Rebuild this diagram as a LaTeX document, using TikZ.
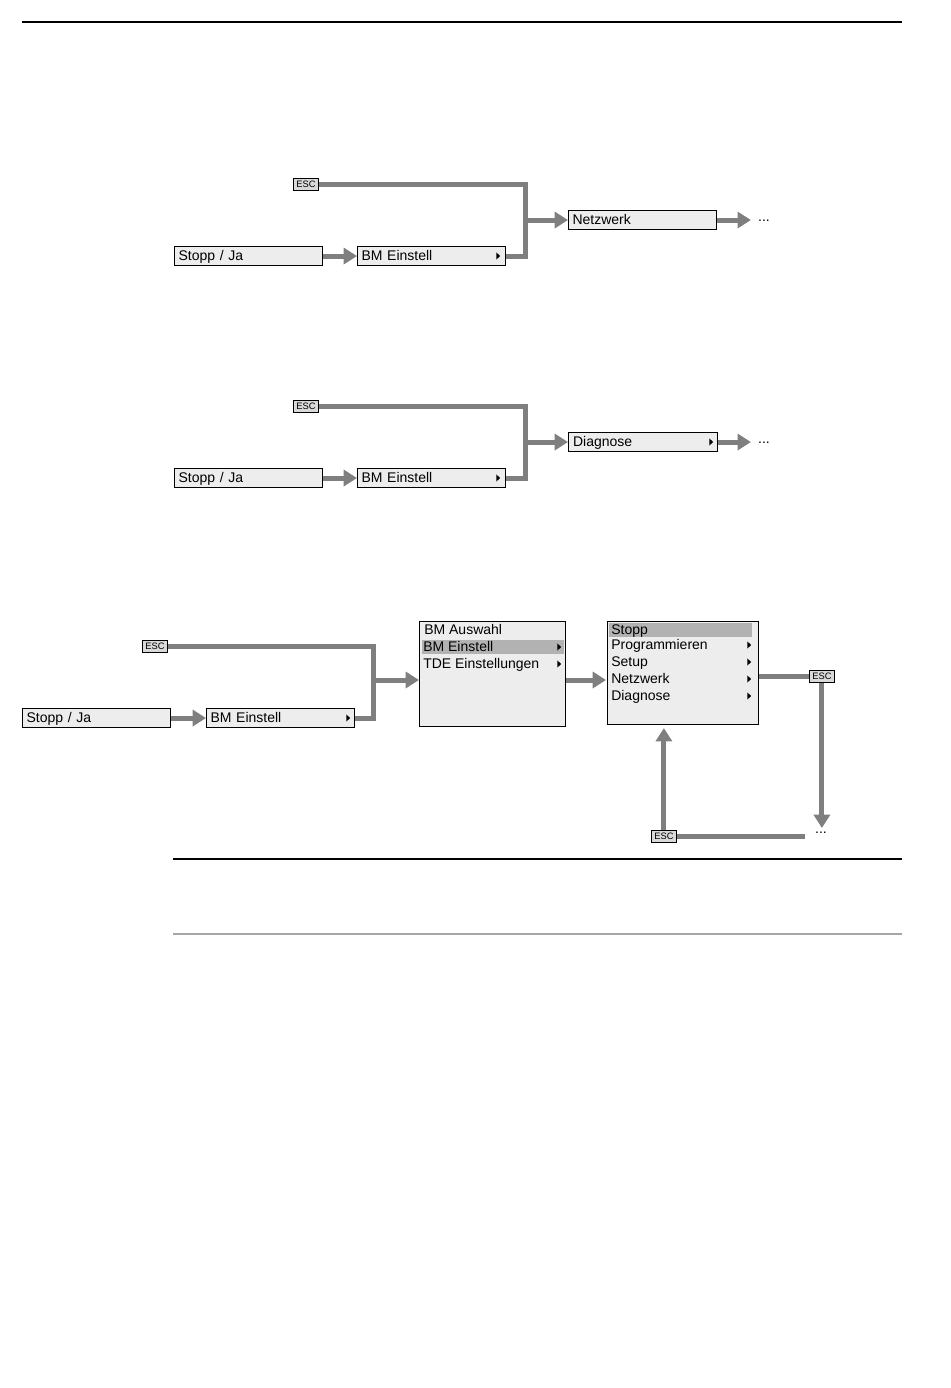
\documentclass[tikz,border=0pt]{standalone}
\usepackage{fontspec}
\setmainfont{Liberation Sans}
\usetikzlibrary{arrows.meta,calc}
\definecolor{conngray}{HTML}{7F7F7F}
\definecolor{boxfill}{HTML}{EDEDED}
\definecolor{hlgray}{HTML}{B2B2B2}
\definecolor{escfill}{HTML}{D9D9D9}
\definecolor{rulegray}{HTML}{A6A6A6}
\newcommand\submark[1]{\fill (#1) ++(-1.3pt,-2.7pt) -- ++(2.9pt,2.7pt) -- ++(-2.9pt,2.7pt) -- cycle;}
\begin{document}
\begin{tikzpicture}[x=0.75pt,y=-0.75pt,
 conn/.style={draw=conngray, line width=3.75pt},
 arr/.style={conn, -{Triangle[length=10pt,width=12pt]}},
 field/.style={draw=black, line width=0.8pt, fill=boxfill, anchor=north west,
   minimum width=111pt, minimum height=14.25pt, inner xsep=3pt, inner ysep=0pt,
   text height=9pt, text depth=1.8pt,
   text width=105pt, align=left, font=\fontsize{10.5}{12}\selectfont},
 escbox/.style={draw=black, line width=0.6pt, fill=escfill, anchor=north west,
   minimum width=18.75pt, minimum height=9pt, inner sep=0pt, font=\fontsize{7}{8}\selectfont},
 menu/.style={draw=black, line width=0.8pt, fill=boxfill, anchor=north west, inner sep=0pt},
 item/.style={anchor=west, inner sep=0pt, text height=9pt, text depth=1.8pt,
   font=\fontsize{10.5}{12}\selectfont},
 dots/.style={inner sep=0pt, font=\fontsize{10.5}{12}\selectfont}]
\path[use as bounding box] (0,0) rectangle (950,1388);
% page rules
\draw[line width=0.9pt] (22,22) -- (902,22);
\draw[line width=0.9pt] (173,859) -- (902,859);
\draw[rulegray, line width=1.6pt] (173,934) -- (902,934);

% ---------- diagram 1 ----------
\node[escbox] (esc1) at (293,178) {ESC};
\node[field] (stopp1) at (174,246) {Stopp / Ja};
\node[field] (bm1) at (357,246) {BM Einstell};
\submark{498,256}
\node[field] (net) at (568,210) {Netzwerk};
\node[dots] (d1) at (764,221) {...};
\coordinate (j1) at (525,219);
\draw[arr] (stopp1.east) -- (bm1.west);
\draw[conn] (esc1.east) -| (j1 |- bm1.east) -- (bm1.east);
\draw[arr] (j1 |- net.west) -- (net.west);
\draw[arr] (net.east) -- ($(net.east -| d1.west)+(-7,0)$);

% ---------- diagram 2 ----------
\node[escbox] (esc2) at (293,400) {ESC};
\node[field] (stopp2) at (174,468) {Stopp / Ja};
\node[field] (bm2) at (357,468) {BM Einstell};
\submark{498,478}
\node[field, minimum width=111.75pt] (diag) at (568,432) {Diagnose};
\submark{711,442}
\node[dots] (d2) at (764,443) {...};
\coordinate (j2) at (525,441);
\draw[arr] (stopp2.east) -- (bm2.west);
\draw[conn] (esc2.east) -| (j2 |- bm2.east) -- (bm2.east);
\draw[arr] (j2 |- diag.west) -- (diag.west);
\draw[arr] (diag.east) -- ($(diag.east -| d2.west)+(-7,0)$);

% ---------- diagram 3 ----------
\node[escbox] (esc3) at (142,640) {ESC};
\node[field] (stopp3) at (22,708) {Stopp / Ja};
\node[field] (bm3) at (206,708) {BM Einstell};
\submark{348,718}
\coordinate (j3) at (373,680);
\draw[arr] (stopp3.east) -- (bm3.west);
\draw[conn] (esc3.east) -| (j3 |- bm3.east) -- (bm3.east);

% menu 1
\node[menu, minimum width=109.5pt, minimum height=78.75pt] (m1) at (419,621) {};
\fill[hlgray] (422,640) rectangle (564,654);
\node[item] (m1a) at (424,629.5) {BM Auswahl};
\node[item] (m1b) at (423,646.5) {BM Einstell};
\node[item] (m1c) at (423,663.5) {TDE Einstellungen};
\submark{559,647}
\submark{559,664}

% menu 2
\node[menu, minimum width=113.25pt, minimum height=77.25pt] (m2) at (607,621) {};
\fill[hlgray] (609,623) rectangle (752,636.5);
\node[item] (m2a) at (611,629.5) {Stopp};
\node[item] (m2b) at (611,644.5) {Programmieren};
\node[item] (m2c) at (611,661.5) {Setup};
\node[item] (m2d) at (611,678.5) {Netzwerk};
\node[item] (m2e) at (611,695.5) {Diagnose};
\submark{749,645}
\submark{749,662}
\submark{749,679}
\submark{749,696}

\draw[arr] (j3) -- (j3 -| m1.west);
\draw[arr] (m1.east |- j3) -- ($(m2.west |- j3)+(-1,0)$);

\node[escbox] (esc4) at (809,670) {ESC};
\node[escbox] (esc5) at (651,830) {ESC};
\node[dots] (d3) at (821,833) {...};
\draw[conn] (m2.east |- esc4.west) -- (esc4.west);
\draw[arr] (esc4.south) -- ($(esc4.south |- d3.north)+(0,-4)$);
\draw[conn] (esc5.east) -- ($(esc5.east -| d3.west)+(-10,0)$);
\draw[arr] (esc5.north) -- ($(esc5.north |- m2.south)+(0,3)$);
\end{tikzpicture}
\end{document}
